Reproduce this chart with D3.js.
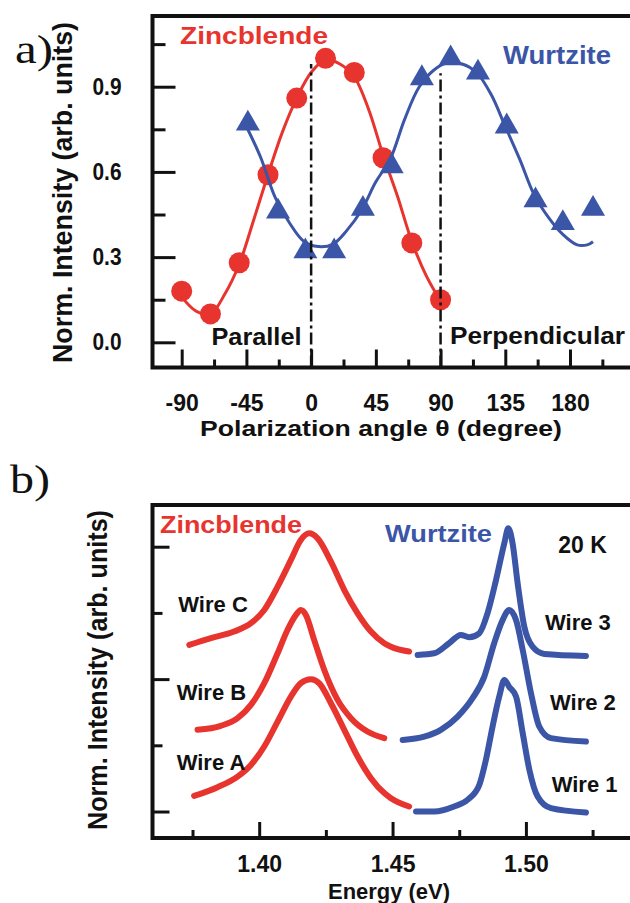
<!DOCTYPE html>
<html>
<head>
<meta charset="utf-8">
<script src="https://d3js.org/d3.v7.min.js"></script>
<style>
  body { margin: 0; background: #fff; }
  text { font-family: 'Liberation Sans', Arial, sans-serif; font-weight: bold; }
</style>
</head>
<body>
<svg id="fig" width="630" height="903"></svg>
<script>
// Panel a) polarization dependence
var zb_angles = [-90, -70, -50, -30, -10, 10, 30, 50, 70, 90]
var zb_values = [0.18, 0.10, 0.28, 0.59, 0.86, 1.00, 0.95, 0.65, 0.35, 0.15]
var zb_fit_angles = [-90, -80, -70, -60, -50, -40, -30, -20, -10, 0, 10, 20, 30, 40, 50, 60, 70, 80, 90]
var zb_fit_values = [0.16, 0.11, 0.10, 0.17, 0.275, 0.43, 0.59, 0.74, 0.86, 0.95, 0.995, 0.98, 0.935, 0.82, 0.66, 0.515, 0.355, 0.235, 0.145]

var wz_angles = [-44, -23, -4, 16, 36, 56, 77, 97, 116, 136, 156, 175, 196]
var wz_values = [0.77, 0.46, 0.32, 0.32, 0.47, 0.62, 0.93, 1.00, 0.95, 0.76, 0.50, 0.42, 0.47]
var wz_fit_angles = [-45, -35, -25, -15, -5, 5, 15, 25, 35, 45, 55, 65, 75, 85, 95, 105, 115, 125, 135, 145, 155, 165, 175, 185, 192, 196]
var wz_fit_values = [0.76, 0.65, 0.51, 0.42, 0.355, 0.337, 0.345, 0.395, 0.465, 0.565, 0.645, 0.785, 0.898, 0.957, 0.985, 0.98, 0.95, 0.874, 0.76, 0.645, 0.52, 0.44, 0.38, 0.343, 0.343, 0.354]

var guide_angles = [0, 90]
var guide_tops = [0.98, 0.947]

var a_y_major = [0.0, 0.3, 0.6, 0.9]
var a_y_minor = [0.15, 0.45, 0.75, 1.05]
var a_x_major = [-90, -45, 0, 45, 90, 135, 180]
var a_x_minor = [-67.5, -22.5, 22.5, 67.5, 112.5, 157.5, 202.5]

// Panel b) PL spectra at 20 K (offset vertically)
var wire_a_energy = [1.3756, 1.3844, 1.3919, 1.3969, 1.4019, 1.4069, 1.4119, 1.4156, 1.4194, 1.4225, 1.4269, 1.4319, 1.4369, 1.4419, 1.4469, 1.4494, 1.4562]
var wire_a_int = [0.118, 0.184, 0.264, 0.352, 0.491, 0.679, 0.868, 0.969, 0.999, 0.969, 0.818, 0.617, 0.415, 0.252, 0.139, 0.101, 0.038]
var wire_b_energy = [1.3769, 1.3856, 1.3919, 1.3969, 1.4019, 1.4069, 1.4106, 1.4138, 1.4156, 1.4175, 1.4206, 1.4244, 1.4294, 1.4344, 1.4406, 1.4469]
var wire_b_int = [0.617, 0.647, 0.705, 0.805, 0.969, 1.195, 1.371, 1.485, 1.522, 1.485, 1.296, 1.069, 0.843, 0.705, 0.604, 0.554]
var wire_c_energy = [1.3738, 1.3819, 1.3906, 1.3969, 1.4019, 1.4069, 1.4119, 1.4156, 1.4188, 1.4219, 1.4269, 1.4319, 1.4369, 1.4419, 1.4469, 1.4494, 1.4562]
var wire_c_int = [1.258, 1.309, 1.359, 1.422, 1.522, 1.698, 1.900, 2.051, 2.101, 2.063, 1.887, 1.673, 1.497, 1.359, 1.271, 1.245, 1.208]

var wire_1_energy = [1.4588, 1.4656, 1.4731, 1.4781, 1.4825, 1.4850, 1.4875, 1.4900, 1.4919, 1.4937, 1.4963, 1.4988, 1.5013, 1.5044, 1.5094, 1.5225]
var wire_1_int = [0.0, 0.0, 0.038, 0.088, 0.2, 0.39, 0.642, 0.868, 0.994, 0.943, 0.868, 0.592, 0.315, 0.113, 0.025, -0.008]
var wire_2_energy = [1.4538, 1.4619, 1.4681, 1.4744, 1.4800, 1.4844, 1.4881, 1.4913, 1.4937, 1.4963, 1.4988, 1.5019, 1.5050, 1.5094, 1.5225]
var wire_2_int = [0.541, 0.566, 0.617, 0.717, 0.856, 1.019, 1.271, 1.447, 1.522, 1.447, 1.220, 0.894, 0.642, 0.554, 0.528]
var wire_3_energy = [1.4594, 1.4656, 1.4712, 1.4756, 1.4787, 1.4825, 1.4856, 1.4888, 1.4919, 1.4934, 1.4950, 1.4969, 1.4994, 1.5025, 1.5069, 1.5225]
var wire_3_int = [1.183, 1.195, 1.271, 1.334, 1.316, 1.346, 1.497, 1.749, 2.026, 2.139, 2.026, 1.724, 1.396, 1.245, 1.19, 1.175]

var b_x_major = [1.40, 1.45, 1.50]
var b_x_minor = [1.375, 1.425, 1.475, 1.525]
var b_y_major = [0, 1, 2]
var b_y_minor = [0.5, 1.5]

var red = '#e8342e'
var blue = '#3b55a7'
var ink = '#111'

var svg = d3.select('#fig')
svg.append('rect').attr('width', 630).attr('height', 903).attr('fill', '#fff')

function zip(xs, ys) {
  return xs.map((x, i) => [x, ys[i]])
}

function add_label(g, txt, x, y, size, width, color, anchor) {
  var t = g.append('text')
    .text(txt)
    .attr('x', x)
    .attr('y', y)
    .attr('font-size', size)
    .attr('fill', color || ink)
    .attr('text-anchor', anchor || 'start')
  if (width) {
    t.attr('textLength', width).attr('lengthAdjust', 'spacingAndGlyphs')
  }
  return t
}

function style_ticks(g, size) {
  g.select('.domain').remove()
  g.selectAll('.tick line').attr('stroke', ink).attr('stroke-width', 3)
  g.attr('font-size', size).attr('fill', ink)
  g.selectAll('.tick text').attr('fill', ink)
}

// ---------------- a) ----------------
var x_a = d3.scaleLinear().domain([-110.3, 223.8]).range([152.5, 633])
var y_a = d3.scaleLinear().domain([-0.0887, 1.149]).range([367.5, 16])

var fit_line_a = d3.line()
  .x(d => x_a(d[0]))
  .y(d => y_a(d[1]))
  .curve(d3.curveCatmullRom)

var panel_a = svg.append('g')

// Zincblende
panel_a.append('path')
  .datum(zip(zb_fit_angles, zb_fit_values))
  .attr('d', fit_line_a)
  .attr('fill', 'none')
  .attr('stroke', red)
  .attr('stroke-width', 3)
panel_a.selectAll('.zb-dot')
  .data(zip(zb_angles, zb_values))
  .join('circle')
  .attr('class', 'zb-dot')
  .attr('cx', d => x_a(d[0]))
  .attr('cy', d => y_a(d[1]))
  .attr('r', 10.5)
  .attr('fill', red)

// Wurtzite
panel_a.append('path')
  .datum(zip(wz_fit_angles, wz_fit_values))
  .attr('d', fit_line_a)
  .attr('fill', 'none')
  .attr('stroke', blue)
  .attr('stroke-width', 3)
panel_a.selectAll('.wz-tri')
  .data(zip(wz_angles, wz_values))
  .join('path')
  .attr('class', 'wz-tri')
  .attr('d', d3.symbol(d3.symbolTriangle, 250))
  .attr('transform', d => 'translate(' + x_a(d[0]) + ',' + y_a(d[1]) + ')')
  .attr('fill', blue)

// Parallel / perpendicular guides
panel_a.selectAll('.guide')
  .data(zip(guide_angles, guide_tops))
  .join('line')
  .attr('class', 'guide')
  .attr('x1', d => x_a(d[0]))
  .attr('x2', d => x_a(d[0]))
  .attr('y1', y_a.range()[0])
  .attr('y2', d => y_a(d[1]))
  .attr('stroke', ink)
  .attr('stroke-width', 2.5)
  .attr('stroke-dasharray', '12,4,3,4')

// Frame and ticks
panel_a.append('rect')
  .attr('x', x_a.range()[0]).attr('y', y_a.range()[1])
  .attr('width', x_a.range()[1] - x_a.range()[0])
  .attr('height', y_a.range()[0] - y_a.range()[1])
  .attr('fill', 'none').attr('stroke', ink).attr('stroke-width', 4)

panel_a.append('g')
  .attr('transform', 'translate(' + x_a.range()[0] + ',0)')
  .call(d3.axisLeft(y_a).tickValues(a_y_major).tickSizeInner(-23).tickSizeOuter(0)
    .tickPadding(31).tickFormat(d3.format('.1f')))
  .call(g => style_ticks(g, 24))
  .call(g => g.selectAll('.tick text').attr('textLength', 29).attr('lengthAdjust', 'spacingAndGlyphs'))
panel_a.append('g')
  .attr('transform', 'translate(' + x_a.range()[0] + ',0)')
  .call(d3.axisLeft(y_a).tickValues(a_y_minor).tickSizeInner(-13).tickSizeOuter(0).tickFormat(''))
  .call(g => style_ticks(g, 10))

panel_a.append('g')
  .attr('transform', 'translate(0,' + y_a.range()[0] + ')')
  .call(d3.axisBottom(x_a).tickValues(a_x_major).tickSizeInner(-18).tickSizeOuter(0)
    .tickPadding(27).tickFormat(d => String(d)))
  .call(g => style_ticks(g, 23))
panel_a.append('g')
  .attr('transform', 'translate(0,' + y_a.range()[0] + ')')
  .call(d3.axisBottom(x_a).tickValues(a_x_minor).tickSizeInner(-8).tickSizeOuter(0).tickFormat(''))
  .call(g => style_ticks(g, 10))

add_label(panel_a, 'Zincblende', 180, 43.5, 23, 148, red)
add_label(panel_a, 'Wurtzite', 503, 63.5, 25, 108, blue)
add_label(panel_a, 'Parallel', 211.5, 345, 23, 90)
add_label(panel_a, 'Perpendicular', 450, 343.5, 24, 175)
add_label(panel_a, 'Polarization angle \u03b8 (degree)', 381, 436.3, 22.5, 362, ink, 'middle')
add_label(panel_a, 'Norm. Intensity (arb. units)', 0, 0, 27, 341, ink, 'middle')
  .attr('transform', 'translate(72,192.5) rotate(-90)')
add_label(panel_a, 'a)', 15, 63, 40, 38)
  .style('font-family', "'Liberation Serif', 'Times New Roman', serif")
  .style('font-weight', 'normal')

// ---------------- b) ----------------
var x_b = d3.scaleLinear().domain([1.36, 1.54]).range([152.5, 632.6])
var y_b = d3.scaleLinear().domain([-0.2, 2.315]).range([838, 505])

var spec_line = d3.line()
  .x(d => x_b(d[0]))
  .y(d => y_b(d[1]))
  .curve(d3.curveMonotoneX)

var spectra = [
  {e: wire_a_energy, i: wire_a_int, c: red},
  {e: wire_b_energy, i: wire_b_int, c: red},
  {e: wire_c_energy, i: wire_c_int, c: red},
  {e: wire_1_energy, i: wire_1_int, c: blue},
  {e: wire_2_energy, i: wire_2_int, c: blue},
  {e: wire_3_energy, i: wire_3_int, c: blue}
]

var panel_b = svg.append('g')

panel_b.selectAll('.spec')
  .data(spectra)
  .join('path')
  .attr('class', 'spec')
  .attr('d', d => spec_line(zip(d.e, d.i)))
  .attr('fill', 'none')
  .attr('stroke', d => d.c)
  .attr('stroke-width', 6)
  .attr('stroke-linecap', 'round')
  .attr('stroke-linejoin', 'round')

panel_b.append('rect')
  .attr('x', x_b.range()[0]).attr('y', y_b.range()[1])
  .attr('width', x_b.range()[1] - x_b.range()[0])
  .attr('height', y_b.range()[0] - y_b.range()[1])
  .attr('fill', 'none').attr('stroke', ink).attr('stroke-width', 4)

panel_b.append('g')
  .attr('transform', 'translate(' + x_b.range()[0] + ',0)')
  .call(d3.axisLeft(y_b).tickValues(b_y_major).tickSizeInner(-17).tickSizeOuter(0).tickFormat(''))
  .call(g => style_ticks(g, 10))
panel_b.append('g')
  .attr('transform', 'translate(' + x_b.range()[0] + ',0)')
  .call(d3.axisLeft(y_b).tickValues(b_y_minor).tickSizeInner(-10).tickSizeOuter(0).tickFormat(''))
  .call(g => style_ticks(g, 10))

panel_b.append('g')
  .attr('transform', 'translate(0,' + y_b.range()[0] + ')')
  .call(d3.axisBottom(x_b).tickValues(b_x_major).tickSizeInner(-16).tickSizeOuter(0)
    .tickPadding(18).tickFormat(d3.format('.2f')))
  .call(g => style_ticks(g, 23))
panel_b.append('g')
  .attr('transform', 'translate(0,' + y_b.range()[0] + ')')
  .call(d3.axisBottom(x_b).tickValues(b_x_minor).tickSizeInner(-8).tickSizeOuter(0).tickFormat(''))
  .call(g => style_ticks(g, 10))

add_label(panel_b, 'Zincblende', 160, 533.3, 23, 142, red)
add_label(panel_b, 'Wurtzite', 385, 542, 23, 107, blue)
add_label(panel_b, '20 K', 558.3, 553.3, 23)
add_label(panel_b, 'Wire C', 178.3, 611.7, 22)
add_label(panel_b, 'Wire B', 176.7, 700, 22)
add_label(panel_b, 'Wire A', 176.7, 770, 22)
add_label(panel_b, 'Wire 3', 545, 630, 22)
add_label(panel_b, 'Wire 2', 550, 710, 22)
add_label(panel_b, 'Wire 1', 551.7, 791.7, 22)
add_label(panel_b, 'Energy (eV)', 389, 898.5, 22, 122, ink, 'middle')
add_label(panel_b, 'Norm. Intensity (arb. units)', 0, 0, 27, 320, ink, 'middle')
  .attr('transform', 'translate(107,670) rotate(-90)')
add_label(panel_b, 'b)', 10, 493, 41, 40)
  .style('font-family', "'Liberation Serif', 'Times New Roman', serif")
  .style('font-weight', 'normal')
</script>
</body>
</html>
